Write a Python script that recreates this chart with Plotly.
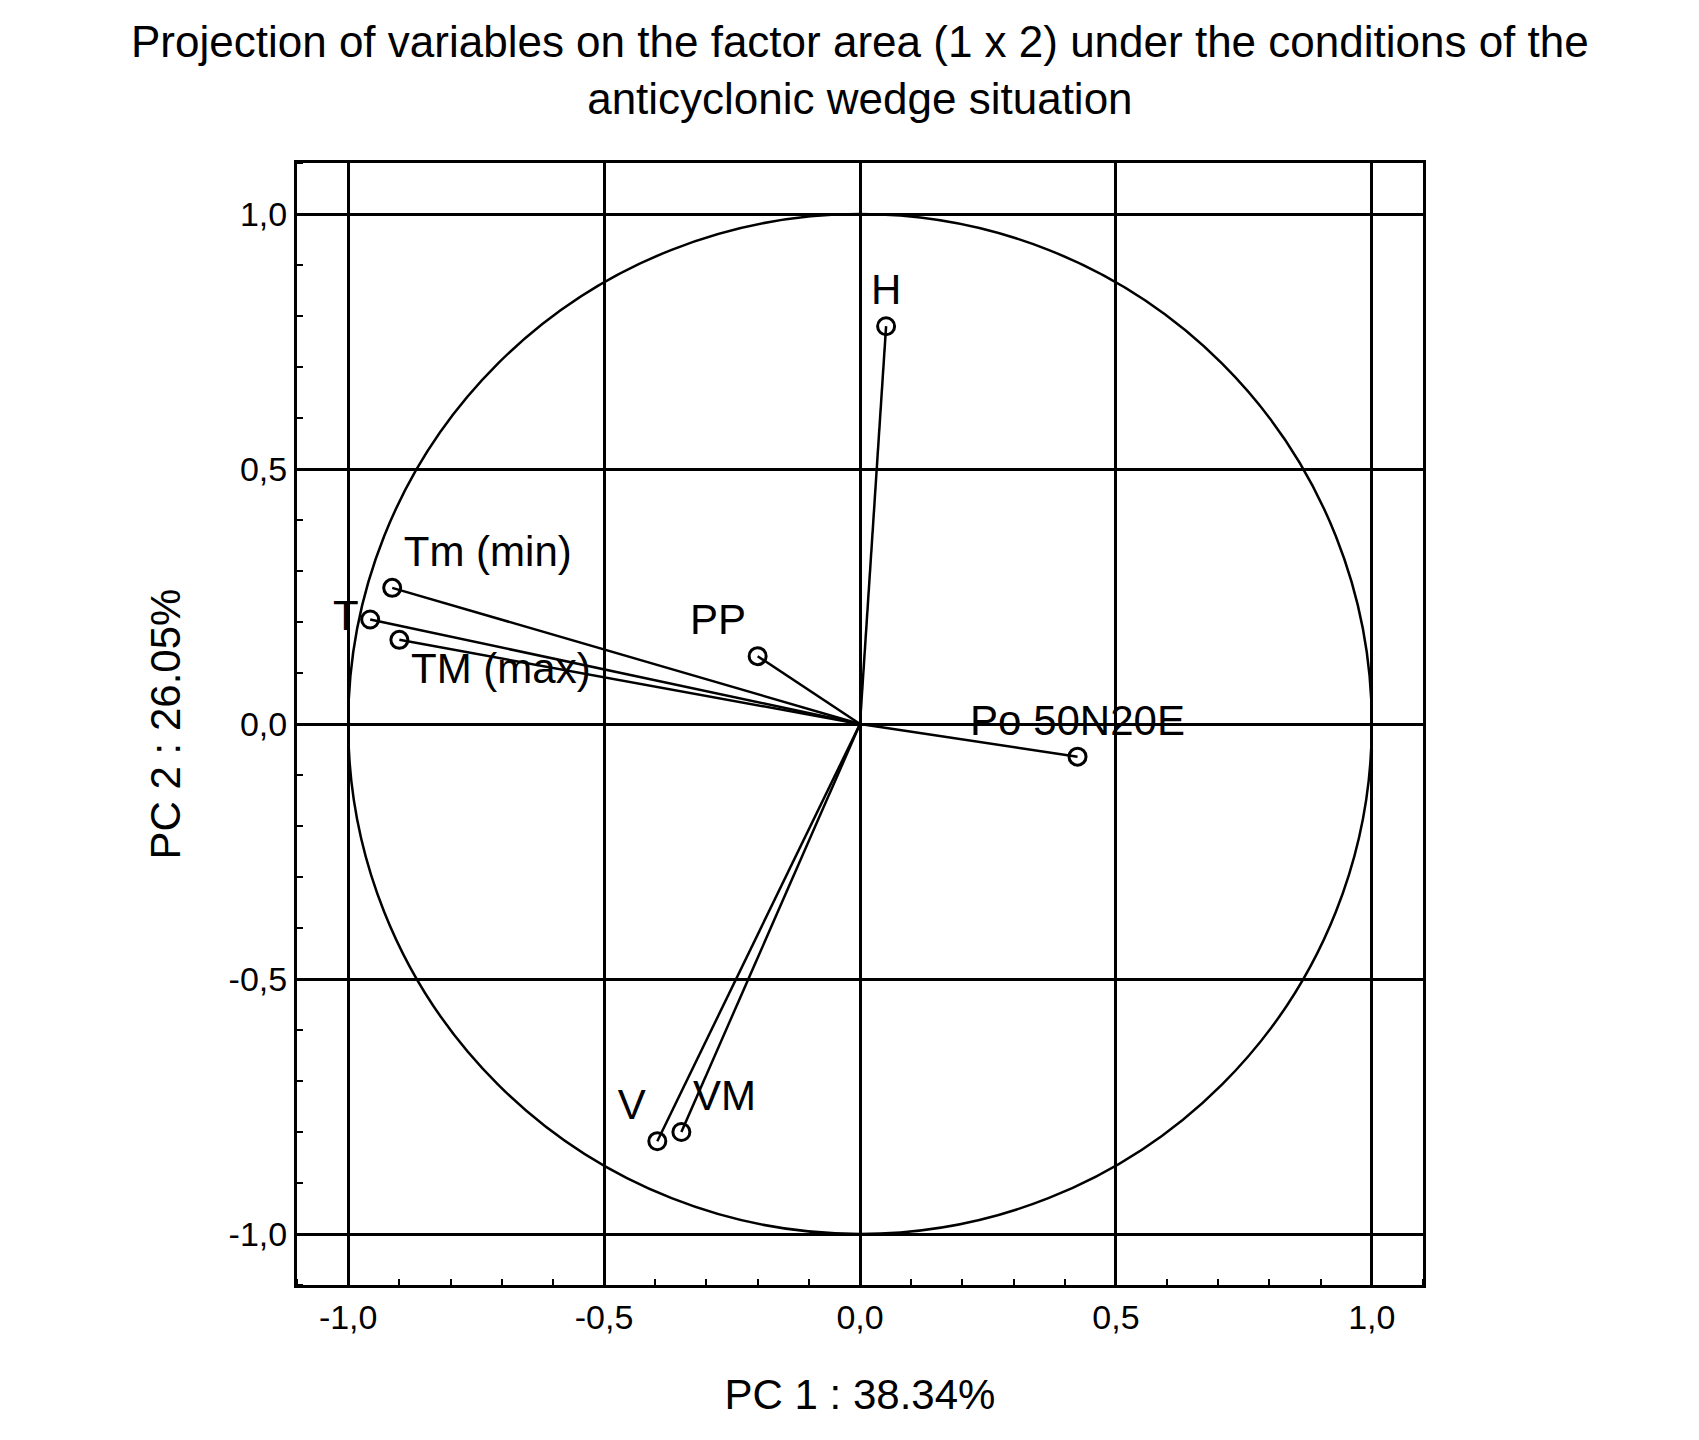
import plotly.graph_objects as go

names = ["H", "PP", "Tm (min)", "T", "TM (max)", "Po 50N20E", "V", "VM"]
pc1 = [0.051, -0.200, -0.914, -0.957, -0.900, 0.425, -0.396, -0.349]
pc2 = [0.780, 0.133, 0.267, 0.205, 0.165, -0.064, -0.818, -0.800]
label_pos = ["top center", "top left", "top right", "middle left", "bottom right",
             "top center", "top left", "top right"]
tick_vals = [-1, -0.5, 0, 0.5, 1]
tick_text = ["-1,0", "-0,5", "0,0", "0,5", "1,0"]

lx, ly = [], []
for x, y in zip(pc1, pc2):
    lx += [0, x, None]
    ly += [0, y, None]

fig = go.Figure()
fig.add_shape(type="circle", xref="x", yref="y", x0=-1, y0=-1, x1=1, y1=1,
              line=dict(color="black", width=2.5))
fig.add_trace(go.Scatter(x=lx, y=ly, mode="lines", line=dict(color="black", width=2.5),
                         hoverinfo="skip", showlegend=False))
fig.add_trace(go.Scatter(x=pc1, y=pc2, mode="markers+text", text=names,
                         textposition=label_pos,
                         textfont=dict(size=42, color="black", family="Liberation Sans"),
                         marker=dict(symbol="circle-open", size=17, color="black",
                                     line=dict(width=3)),
                         showlegend=False))

ax = dict(range=[-1.1, 1.1], tickvals=tick_vals, ticktext=tick_text,
          showgrid=True, gridcolor="black", gridwidth=3, zeroline=True,
          zerolinecolor="black", zerolinewidth=3, showline=True, linecolor="black",
          linewidth=3, mirror=True, ticks="", tickfont=dict(size=34, color="black"),
          minor=dict(ticks="inside", dtick=0.1, ticklen=6, tickcolor="black",
                     tickwidth=2, showgrid=False))
fig.update_xaxes(**ax, title=dict(text="PC 1 : 38.34%", font=dict(size=42, color="black"),
                                   standoff=45))
fig.update_yaxes(**ax, title=dict(text="PC 2 : 26.05%", font=dict(size=42, color="black"),
                                   standoff=35))
fig.update_layout(
    width=1699, height=1440, plot_bgcolor="white", paper_bgcolor="white",
    font=dict(family="Liberation Sans", color="black"),
    margin=dict(l=289, r=284, t=155, b=163),
)
fig.add_annotation(text="Projection of variables on the factor area (1 x 2) under the conditions of the<br>anticyclonic wedge situation",
                   xref="paper", yref="paper", x=0.5, y=1, yshift=148,
                   xanchor="center", yanchor="top", showarrow=False,
                   font=dict(size=44, color="black"))
fig.write_html("out.html")
